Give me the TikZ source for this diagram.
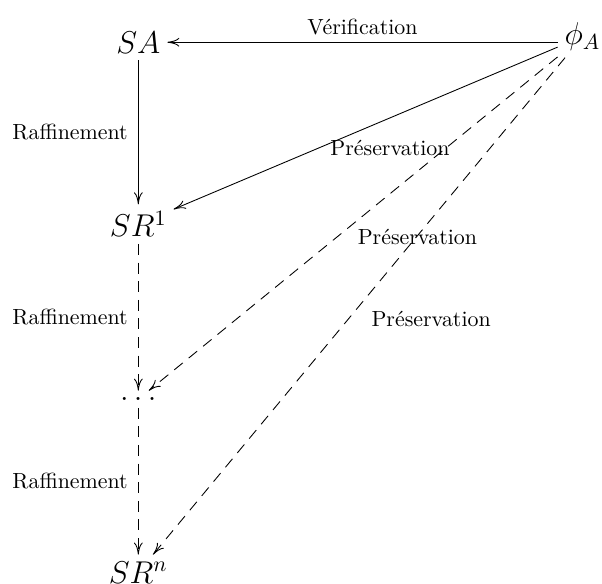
\documentclass[tikz,border=0pt]{standalone}
\usepackage{amsmath}
\usetikzlibrary{arrows.meta}

\tikzset{
    obj/.style={font=\Large, inner sep=3pt},
    lab/.style={font=\normalsize},
    fleche/.style={-{To[length=5.5pt, width=4pt]}, thin},
    pointille/.style={fleche, dash pattern=on 5pt off 3.5pt},
}

\begin{document}
\begin{tikzpicture}
            \useasboundingbox (0,0) rectangle (9.663,9.358);
            % ---------- objets ----------
            \node[obj] (SA) at (2.22,8.68) {\(SA\)};
            \node[obj] (phiA) at (9.35,8.77) {\(\phi_A\)};
            \node[obj] (SR1) at (2.22,5.76) {\(SR^1\)};
            \node[obj] (dots) at (2.22,2.95) {\(\ldots\)};
            \node[obj] (SRn) at (2.22,0.17) {\(SR^n\)};
            % ---------- verification ----------
            \draw[fleche] (phiA.west |- SA.east) -- (SA.east)
                node[lab, midway, above] (verif) {Vérification};
            % ---------- raffinements ----------
            \draw[fleche] (SA) -- (SR1)
                node[lab, midway, left=1.3pt] (raff1) {Raffinement};
            \draw[pointille] (SR1) -- (dots)
                node[lab, midway, left=1.3pt] (raff2) {Raffinement};
            \draw[pointille] (dots) -- (SRn)
                node[lab, midway, left=1.3pt] (raff3) {Raffinement};
            % ---------- preservations ----------
            \draw[fleche] (phiA) -- (SR1);
            \draw[pointille] (phiA) -- (dots);
            \draw[pointille] (phiA) -- (SRn);
            \node[lab] (pres1) at (6.26,6.99) {Préservation};
            \node[lab] (pres2) at (6.70,5.56) {Préservation};
            \node[lab] (pres3) at (6.92,4.23) {Préservation};
\end{tikzpicture}
\end{document}
